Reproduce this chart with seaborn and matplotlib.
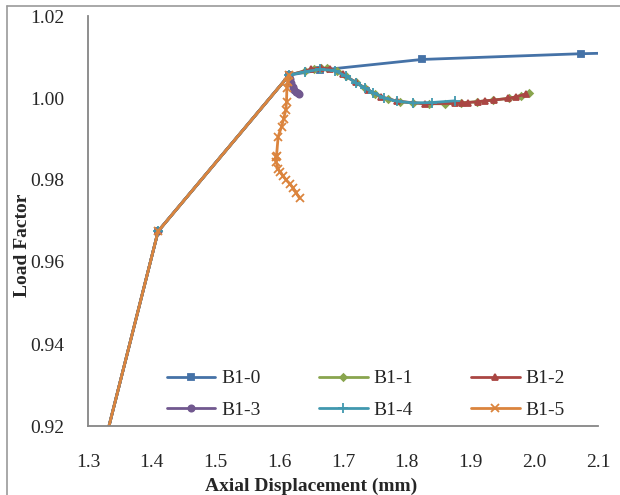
import numpy as np
import pandas as pd
import matplotlib
matplotlib.use("Agg")
import matplotlib.pyplot as plt
import seaborn as sns
from matplotlib.lines import Line2D

# shared loading path (all specimens)
base_x = [1.20, 1.41, 1.6156]
base_y = [0.838, 0.9675, 1.0056]

x_b10 = [1.664, 1.8235, 2.073, 2.30]
y_b10 = [1.0068, 1.0094, 1.0108, 1.0116]

x_b11 = [1.64, 1.655, 1.665, 1.675, 1.69, 1.705, 1.72, 1.735, 1.75, 1.77, 1.79,
         1.81, 1.835, 1.86, 1.885, 1.91, 1.935, 1.96, 1.98, 1.991]
y_b11 = [1.0066, 1.0071, 1.0073, 1.0072, 1.0066, 1.0053, 1.0038, 1.0024, 1.0010,
         0.9997, 0.9991, 0.9988, 0.9986, 0.9986, 0.9988, 0.9991, 0.9995, 0.9999,
         1.0006, 1.0012]

x_b12 = [1.65, 1.665, 1.68, 1.70, 1.72, 1.74, 1.76, 1.785, 1.828, 1.875, 1.886,
         1.896, 1.912, 1.922, 1.937, 1.959, 1.972, 1.987]
y_b12 = [1.0070, 1.0073, 1.0071, 1.0058, 1.0038, 1.0019, 1.0003, 0.9992, 0.9986,
         0.9987, 0.9988, 0.9989, 0.9991, 0.9993, 0.9995, 0.9999, 1.0003, 1.0010]

x_b13 = [1.617, 1.619, 1.621, 1.623, 1.626, 1.629, 1.631]
y_b13 = [1.0046, 1.0036, 1.0027, 1.0020, 1.0015, 1.0012, 1.0010]

x_b14 = [1.64, 1.664, 1.687, 1.705, 1.721, 1.735, 1.747, 1.765, 1.785, 1.81, 1.84, 1.875]
y_b14 = [1.0064, 1.0070, 1.0067, 1.0053, 1.0036, 1.0024, 1.0013, 1.0000, 0.9992,
         0.9988, 0.9989, 0.9993]

x_b15 = [1.6135, 1.612, 1.6114, 1.6103, 1.607, 1.6036, 1.5983, 1.5957, 1.5947, 1.595,
         1.5957, 1.598, 1.601, 1.606, 1.611, 1.617, 1.622, 1.627, 1.632]
y_b15 = [1.0040, 1.0024, 0.9991, 0.9971, 0.9950, 0.9930, 0.9906, 0.9881, 0.9857,
         0.9845, 0.9837, 0.9828, 0.9820, 0.9810, 0.9800, 0.9790, 0.9780, 0.9768, 0.9755]

labels = ["B1-0", "B1-1", "B1-2", "B1-3", "B1-4", "B1-5"]
xs = [x_b10, x_b11, x_b12, x_b13, x_b14, x_b15]
ys = [y_b10, y_b11, y_b12, y_b13, y_b14, y_b15]
colors = ["#4572A7", "#89A54E", "#AA4643", "#71588F", "#4198AF", "#DB843D"]
markers = ["s", "D", "^", "o", "+", "x"]
msizes = [5, 3.5, 5, 4.5, 7, 6]

sns.set_style("white")
plt.rcParams['font.family'] = ['Liberation Serif', 'DejaVu Serif']

fig = plt.figure(figsize=(6.2, 4.95), dpi=100)
ax = fig.add_axes([88 / 620, 69 / 495, 510 / 620, 410 / 495])

for lab, x, y, c, m, ms in zip(labels, xs, ys, colors, markers, msizes):
    df = pd.DataFrame({"x": base_x + x, "y": base_y + y})
    sns.lineplot(data=df, x="x", y="y", sort=False, ax=ax, color=c, lw=2.0,
                 marker=m, markersize=ms, markeredgecolor=c, markeredgewidth=1.3,
                 label=lab)

ax.set_xlim(1.3, 2.1)
ax.set_ylim(0.92, 1.02)
ax.set_xticks(np.arange(1.3, 2.11, 0.1))
ax.set_yticks(np.arange(0.92, 1.021, 0.02))
ax.set_xticklabels([f"{t:.1f}" for t in np.arange(1.3, 2.11, 0.1)])
ax.set_yticklabels([f"{t:.2f}" for t in np.arange(0.92, 1.021, 0.02)])
ax.tick_params(axis="x", direction="in", length=4, width=1.1, color="#868686",
               labelsize=14, pad=20)
ax.tick_params(axis="y", direction="out", length=3, width=1.1, color="#868686",
               labelsize=14, pad=14)
for s in ["top", "right"]:
    ax.spines[s].set_visible(False)
for s in ["left", "bottom"]:
    ax.spines[s].set_color("#868686")
    ax.spines[s].set_linewidth(1.3)

ax.set_xlabel("Axial Displacement (mm)", fontsize=14, fontweight="bold")
ax.set_ylabel("Load Factor", fontsize=14, fontweight="bold")
ax.xaxis.set_label_coords(0.437, -0.126)
ax.yaxis.set_label_coords(-0.112, 0.44)

# row-major legend order
h, l = ax.get_legend_handles_labels()
order = [0, 3, 1, 4, 2, 5]
ax.legend([h[i] for i in order], [l[i] for i in order], loc="center",
          bbox_to_anchor=(0.545, 0.077), ncol=3, frameon=False, fontsize=14,
          handlelength=2.5, handletextpad=0.3, columnspacing=3.0, labelspacing=0.72)

# outer chart-area border
fig.add_artist(Line2D([7 / 620, 7 / 620], [0, 1 - 6 / 495], color="#9a9a9a", lw=1.2))
fig.add_artist(Line2D([7 / 620, 1], [1 - 6 / 495, 1 - 6 / 495], color="#9a9a9a", lw=1.2))

fig.savefig("out.png", dpi=100)
